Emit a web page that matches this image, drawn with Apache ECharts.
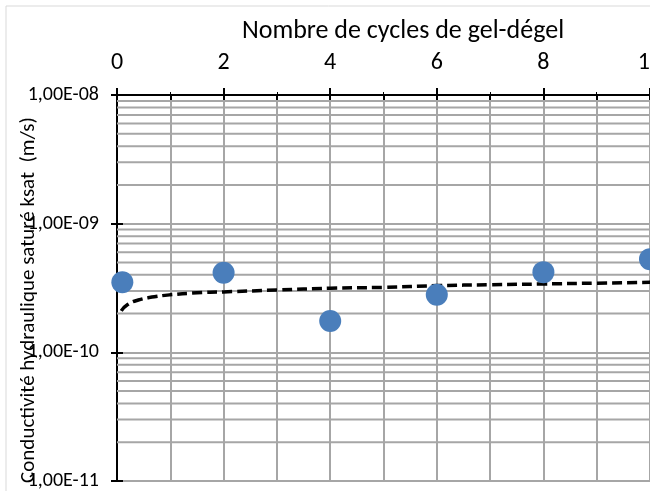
<!DOCTYPE html>
<html>
<head>
<meta charset="utf-8">
<script src="https://cdn.jsdelivr.net/npm/echarts@6/dist/echarts.min.js"></script>
<style>
  html, body { margin: 0; padding: 0; background: #fff; }
  #chart { width: 650px; height: 491px; }
</style>
</head>
<body>
<div id="chart"></div>
<script>
// mesures (cycles, ksat en m/s)
const cycles = [0.1, 2, 4, 6, 8, 10];
const ksat = [3.5e-10, 4.15e-10, 1.75e-10, 2.8e-10, 4.2e-10, 5.3e-10];

// courbe de tendance
const trendX = [0.08, 0.2, 0.4, 0.7, 1, 1.5, 2, 3, 4, 5, 6, 7, 8, 9, 10];
const trendY = [2.1e-10, 2.35e-10, 2.55e-10, 2.7e-10, 2.8e-10, 2.9e-10, 2.95e-10, 3.05e-10,
  3.15e-10, 3.2e-10, 3.3e-10, 3.35e-10, 3.4e-10, 3.45e-10, 3.5e-10];

const decades = [-11, -10, -9];
const fontFamily = 'Carlito, "Noto Sans", sans-serif';
const gridColor = "#a6a6a6";

const chart = echarts.init(document.getElementById("chart"));

// lignes secondaires de la grille (2..9 x 10^n)
const minorValues = [];
decades.forEach((d) => {
  for (let k = 2; k <= 9; k++) {
    minorValues.push(k * Math.pow(10, d));
  }
});

const fmtSci = (v) => {
  const exp = Math.round(Math.log10(v));
  const mant = v / Math.pow(10, exp);
  const e = Math.abs(exp);
  return mant.toFixed(2).replace(".", ",") + "E" + (exp < 0 ? "-" : "+") + (e < 10 ? "0" + e : e);
};

const blackLine = { color: "#000", width: 2 };

const gridSeries = minorValues.map((v) => ({
  type: "line",
  data: [[0, v], [10, v]],
  showSymbol: false,
  silent: true,
  lineStyle: { color: gridColor, width: 2 },
  z: 1,
}));

const options = {
  animation: false,
  grid: { left: 117, top: 95, right: 0, bottom: 10, outerBoundsMode: "none", containLabel: false },
  xAxis: [
    {
      type: "value",
      position: "top",
      min: 0,
      max: 10,
      interval: 2,
      axisLine: { show: true, lineStyle: blackLine },
      axisTick: { show: true, length: 7, lineStyle: blackLine },
      axisLabel: { fontSize: 24, color: "#000", margin: 20, fontFamily },
      splitLine: { show: true, lineStyle: { color: gridColor, width: 2 } },
      minorTick: { show: true, splitNumber: 2 },
      minorSplitLine: { show: true, lineStyle: { color: gridColor, width: 2 } },
    },
    {
      // graduations intérieures (croisées pour les principales)
      type: "value",
      position: "top",
      min: 0,
      max: 10,
      interval: 2,
      axisLine: { show: true, lineStyle: blackLine },
      axisTick: { show: true, inside: true, length: 7, lineStyle: blackLine },
      minorTick: { show: true, splitNumber: 2, length: 7, lineStyle: blackLine },
      axisLabel: { show: false },
      splitLine: { show: false },
    },
  ],
  yAxis: [
    {
      type: "log",
      logBase: 10,
      min: 1e-11,
      max: 1e-8,
      axisLine: { show: true, lineStyle: blackLine },
      axisTick: { show: true, length: 6, lineStyle: blackLine },
      axisLabel: { fontSize: 20, color: "#000", margin: 18, fontFamily, formatter: fmtSci },
      splitLine: { show: true, lineStyle: { color: gridColor, width: 2 } },
    },
    {
      type: "log",
      logBase: 10,
      min: 1e-11,
      max: 1e-8,
      position: "left",
      axisLine: { show: true, lineStyle: blackLine },
      axisTick: { show: true, inside: true, length: 6, lineStyle: blackLine },
      axisLabel: { show: false },
      splitLine: { show: false },
    },
  ],
  graphic: [
    {
      type: "rect",
      shape: { x: 6, y: 6, width: 700, height: 520 },
      style: { fill: null, stroke: "#d9d9d9", lineWidth: 1 },
      silent: true,
    },
    {
      type: "text",
      x: 403,
      y: 31,
      style: {
        text: "Nombre de cycles de gel-dégel",
        fontSize: 26,
        fontFamily,
        fill: "#000",
        align: "center",
        verticalAlign: "middle",
      },
    },
    {
      type: "text",
      x: 29,
      y: 300,
      rotation: Math.PI / 2,
      style: {
        text: "Conductivité hydraulique saturé ksat  (m/s)",
        fontSize: 21,
        fontFamily,
        fill: "#000",
        align: "center",
        verticalAlign: "middle",
      },
    },
  ],
  series: gridSeries.concat([
    {
      name: "tendance",
      type: "line",
      data: trendX.map((x, i) => [x, trendY[i]]),
      smooth: true,
      showSymbol: false,
      lineStyle: { color: "#000", width: 3.5, type: [10, 5] },
      z: 3,
    },
    {
      name: "ksat",
      type: "scatter",
      data: cycles.map((x, i) => [x, ksat[i]]),
      symbolSize: 22,
      itemStyle: { color: "#4a7ebb", opacity: 1 },
      z: 4,
    },
  ]),
};

chart.setOption(options);
</script>
</body>
</html>
